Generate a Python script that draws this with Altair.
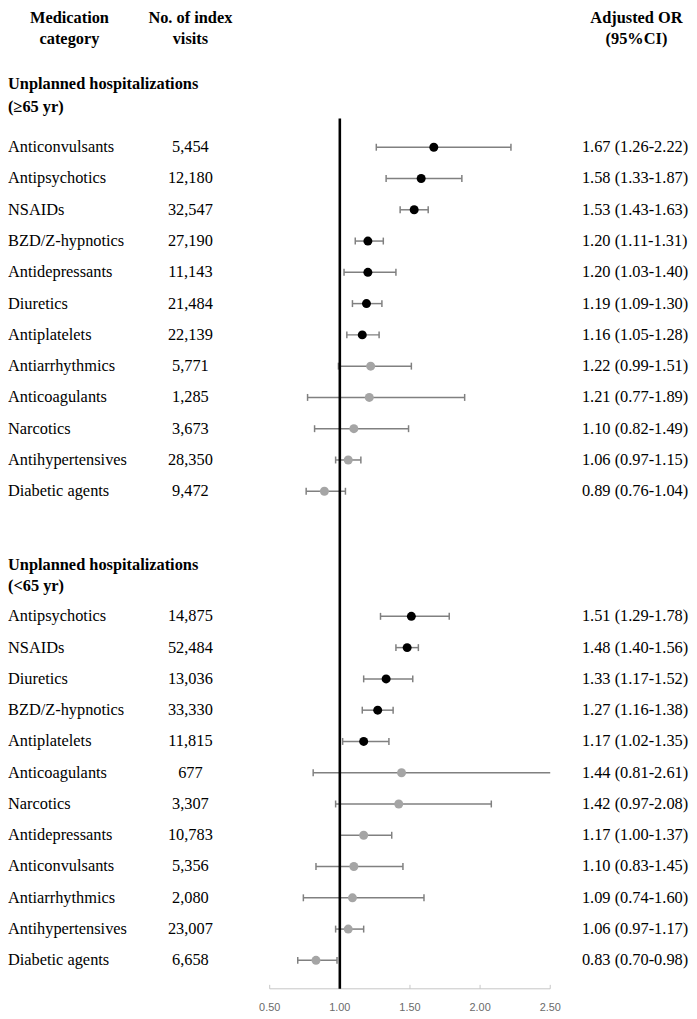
import altair as alt
import pandas as pd

# ---------------- data ----------------
cats_65 = ["Anticonvulsants", "Antipsychotics", "NSAIDs", "BZD/Z-hypnotics", "Antidepressants",
           "Diuretics", "Antiplatelets", "Antiarrhythmics", "Anticoagulants", "Narcotics",
           "Antihypertensives", "Diabetic agents"]
n_65 = [5454, 12180, 32547, 27190, 11143, 21484, 22139, 5771, 1285, 3673, 28350, 9472]
or_65 = [1.67, 1.58, 1.53, 1.20, 1.20, 1.19, 1.16, 1.22, 1.21, 1.10, 1.06, 0.89]
lo_65 = [1.26, 1.33, 1.43, 1.11, 1.03, 1.09, 1.05, 0.99, 0.77, 0.82, 0.97, 0.76]
hi_65 = [2.22, 1.87, 1.63, 1.31, 1.40, 1.30, 1.28, 1.51, 1.89, 1.49, 1.15, 1.04]
sig_65 = [True, True, True, True, True, True, True, False, False, False, False, False]

cats_u65 = ["Antipsychotics", "NSAIDs", "Diuretics", "BZD/Z-hypnotics", "Antiplatelets",
            "Anticoagulants", "Narcotics", "Antidepressants", "Anticonvulsants", "Antiarrhythmics",
            "Antihypertensives", "Diabetic agents"]
n_u65 = [14875, 52484, 13036, 33330, 11815, 677, 3307, 10783, 5356, 2080, 23007, 6658]
or_u65 = [1.51, 1.48, 1.33, 1.27, 1.17, 1.44, 1.42, 1.17, 1.10, 1.09, 1.06, 0.83]
lo_u65 = [1.29, 1.40, 1.17, 1.16, 1.02, 0.81, 0.97, 1.00, 0.83, 0.74, 0.97, 0.70]
hi_u65 = [1.78, 1.56, 1.52, 1.38, 1.35, 2.61, 2.08, 1.37, 1.45, 1.60, 1.17, 0.98]
sig_u65 = [True, True, True, True, True, False, False, False, False, False, False, False]

col_headers_1 = ["Medication", "No. of index", "Adjusted OR"]
col_headers_2 = ["category", "visits", "(95%CI)"]
section_titles = ["Unplanned hospitalizations", "(≥65 yr)", "Unplanned hospitalizations", "(<65 yr)"]

tick_values = [0.5, 1.0, 1.5, 2.0, 2.5]
tick_labels = ["0.50", "1.00", "1.50", "2.00", "2.50"]
REF_OR = 1.0
AXIS_MIN, AXIS_MAX = 0.5, 2.5

# ---------------- layout (row units) ----------------
rows_65 = list(range(0, 12))
rows_u65 = list(range(15, 27))
section_rows = [-1.87, -1.14, 13.52, 14.19]
hdr_row_1, hdr_row_2 = -3.98, -3.31
ref_top_row = -0.92
bottom_row = 26.91

rows = []
for cats, ns, ors, los, his, sigs, ks in [
    (cats_65, n_65, or_65, lo_65, hi_65, sig_65, rows_65),
    (cats_u65, n_u65, or_u65, lo_u65, hi_u65, sig_u65, rows_u65),
]:
    for c, n, o, lo, hi, s, k in zip(cats, ns, ors, los, his, sigs, ks):
        rows.append(dict(cat=c, n=f"{n:,}", orv=o, lo=lo, hi=hi,
                         hi_draw=min(hi, AXIS_MAX), capped=hi > AXIS_MAX,
                         status="sig" if s else "ns", k=k,
                         label=f"{o:.2f} ({lo:.2f}-{hi:.2f})"))
df = pd.DataFrame(rows)

hdr = pd.DataFrame({"t1": col_headers_1, "t2": col_headers_2})
sec = pd.DataFrame({"t": section_titles, "k": section_rows})
ticks_df = pd.DataFrame({"tick": tick_values, "lab": tick_labels, "k": [bottom_row] * len(tick_values)})

X_SCALE = alt.Scale(domain=[-1.3657, 3.447], nice=False, zero=False)
Y_SCALE = alt.Scale(domain=[-4.311, 26.91], reverse=True, nice=False, zero=False)
SERIF = "Liberation Serif"
FS = 16.5
WHISK = "#808080"
AXIS_GREY = "#c6c6c6"

base = alt.Chart(df)
yk = alt.Y("k:Q", scale=Y_SCALE, axis=None)

whisk = base.mark_rule(color=WHISK, strokeWidth=1.5).encode(
    x=alt.X("lo:Q", scale=X_SCALE, axis=None), x2="hi_draw:Q", y=yk)
cap_lo = base.mark_rule(color=WHISK, strokeWidth=1.5, yOffset=-3.5, y2Offset=3.5).encode(
    x=alt.X("lo:Q", scale=X_SCALE, axis=None), y=yk, y2="k:Q")
cap_hi = base.transform_filter("!datum.capped").mark_rule(
    color=WHISK, strokeWidth=1.5, yOffset=-3.5, y2Offset=3.5).encode(
    x=alt.X("hi:Q", scale=X_SCALE, axis=None), y=yk, y2="k:Q")

ref = alt.Chart(pd.DataFrame({"v": [REF_OR], "k0": [ref_top_row], "k1": [bottom_row]})).mark_rule(
    color="black", strokeWidth=2.6).encode(
    x=alt.X("v:Q", scale=X_SCALE, axis=None),
    y=alt.Y("k0:Q", scale=Y_SCALE, axis=None), y2="k1:Q")

pts = base.mark_circle(size=82, opacity=1).encode(
    x=alt.X("orv:Q", scale=X_SCALE, axis=None), y=yk,
    color=alt.Color("status:N", scale=alt.Scale(domain=["sig", "ns"], range=["#000000", "#a5a5a5"]),
                    legend=None))

# axis line + ticks + labels
axis_line = alt.Chart(pd.DataFrame({"a": [AXIS_MIN], "b": [AXIS_MAX], "k": [bottom_row]})).mark_rule(
    color=AXIS_GREY, strokeWidth=1).encode(
    x=alt.X("a:Q", scale=X_SCALE, axis=None), x2="b:Q",
    y=alt.Y("k:Q", scale=Y_SCALE, axis=None))
tick_base = alt.Chart(ticks_df)
axis_ticks = tick_base.mark_rule(color=AXIS_GREY, strokeWidth=1, y2Offset=-4).encode(
    x=alt.X("tick:Q", scale=X_SCALE, axis=None),
    y=alt.Y("k:Q", scale=Y_SCALE, axis=None), y2="k:Q")
axis_labels = tick_base.mark_text(align="center", baseline="middle", dy=19, font="Liberation Sans",
                                  fontSize=11, color="#6a6a6a").encode(
    x=alt.X("tick:Q", scale=X_SCALE, axis=None),
    y=alt.Y("k:Q", scale=Y_SCALE, axis=None), text="lab:N")

# text columns
txt_cat = base.mark_text(align="left", baseline="middle", font=SERIF, fontSize=FS, color="black").encode(
    x=alt.value(0), y=yk, text="cat:N")
txt_n = base.mark_text(align="center", baseline="middle", font=SERIF, fontSize=FS, color="black").encode(
    x=alt.value(184), y=yk, text="n:N")
txt_or = base.mark_text(align="left", baseline="middle", font=SERIF, fontSize=FS, color="black").encode(
    x=alt.value(579), y=yk, text="label:N")

hdr_layers = []
for i, xpos in enumerate([62, 184, 634]):
    sub = alt.Chart(hdr).transform_window(idx="row_number()").transform_filter(f"datum.idx == {i + 1}")
    for field, krow in [("t1", hdr_row_1), ("t2", hdr_row_2)]:
        hdr_layers.append(
            sub.transform_calculate(k=str(krow)).mark_text(
                align="center", baseline="alphabetic", font=SERIF, fontSize=FS,
                fontWeight="bold", color="black").encode(
                x=alt.value(xpos), y=alt.Y("k:Q", scale=Y_SCALE, axis=None), text=f"{field}:N"))

sec_txt = alt.Chart(sec).mark_text(align="left", baseline="alphabetic", font=SERIF, fontSize=FS,
                                    fontWeight="bold", color="black").encode(
    x=alt.value(0), y=alt.Y("k:Q", scale=Y_SCALE, axis=None), text="t:N")

chart = alt.layer(
    axis_line, axis_ticks, axis_labels, whisk, cap_lo, cap_hi, ref, pts,
    txt_cat, txt_n, txt_or, sec_txt, *hdr_layers
).properties(
    width=681, height=985,
    autosize=alt.AutoSizeParams(type="none"),
    padding={"left": 0, "top": 0, "right": 6, "bottom": 26},
).configure_view(stroke=None)

chart.save("out.html", embed_options={"renderer": "svg", "actions": False})
